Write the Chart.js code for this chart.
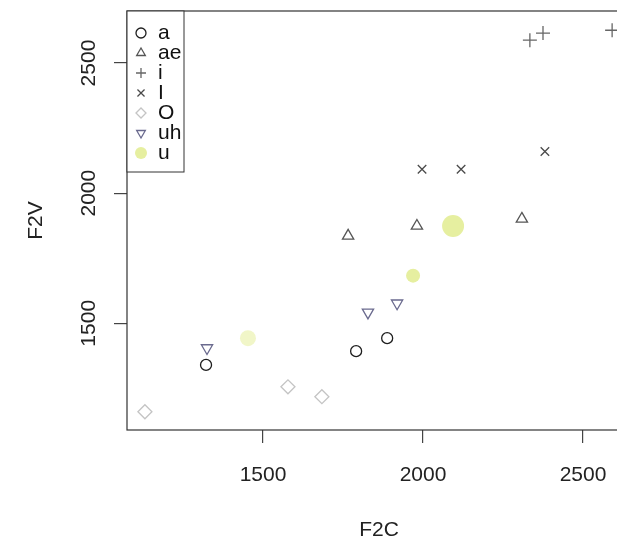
<!DOCTYPE html>
<html>
<head>
<meta charset="utf-8">
<script src="https://cdn.jsdelivr.net/npm/chart.js@4"></script>
<style>
html,body{margin:0;padding:0;background:#fff;overflow:hidden}
#wrap{width:660px;height:543px;position:relative}
</style>
</head>
<body>
<div id="wrap"><canvas id="plot"></canvas></div>
<script>
// vowel formant data: F2 of consonant (x) against F2 of vowel (y)
var vowels=["a","ae","i","I","O","uh","u"]
var F2C=[
  [1322,1791,1888],
  [1766,1981,2309],
  [2334,2375,2591],
  [1997,2119,2381],
  [1131,1578,1684],
  [1325,1828,1919],
  [1453,1969,2094]
]
var F2V=[
  [1340,1393,1443],
  [1836,1874,1901],
  [2588,2615,2626],
  [2092,2092,2160],
  [1160,1256,1218],
  [1405,1542,1577],
  [1443,1683,1874]
]
var xTicks=[1500,2000,2500]
var yTicks=[1500,2000,2500]

// one style per vowel, like pch 1..7 in base graphics
var shapes=["circle","triangle","cross","crossRot","rectRot","triangle","circle"]
var rotations=[0,0,0,0,0,180,0]
var colors=["#1e1e1e","#555555","#666666","#4a4a4a","#c4c4c4","#6a6a8e","#e6efa0"]
var sizes=[5.5,6.5,7,6,7,6.5,8]
var fontFam="'Liberation Sans', Arial, sans-serif"

var datasets=vowels.map(function(v,i){
  var pts=F2C[i].map(function(x,j){return {x:x,y:F2V[i][j]}})
  var filled=(v=="u")
  return {
    label:v,
    data:pts,
    pointStyle:shapes[i],
    rotation:rotations[i],
    pointRadius:filled?[8,7,11]:sizes[i],
    borderColor:colors[i],
    backgroundColor:filled?["#f1f6c8","#e6efa0","#e6efa0"]:"rgba(0,0,0,0)",
    borderWidth:filled?0:1.3
  }
})

const boxPlugin={
  id:'rBox',
  afterDraw:(chart)=>{
    const {ctx,chartArea:a}=chart
    const ys=chart.scales.y
    ctx.save()
    // plot frame
    ctx.strokeStyle="#333"
    ctx.lineWidth=1.2
    ctx.strokeRect(a.left,a.top,a.right-a.left,a.bottom-a.top)
    // vertical tick labels on the y axis
    ctx.fillStyle="#222"
    ctx.font="21px "+fontFam
    ctx.textAlign="center"
    ctx.textBaseline="middle"
    yTicks.forEach(function(v){
      ctx.save()
      ctx.translate(89,ys.getPixelForValue(v))
      ctx.rotate(-Math.PI/2)
      ctx.fillText(String(v),0,0)
      ctx.restore()
    })
    // legend box, top left
    var lx=a.left,ly=a.top,lw=57,lh=161
    ctx.fillStyle="#fff"
    ctx.fillRect(lx,ly,lw,lh)
    ctx.strokeStyle="#333"
    ctx.lineWidth=1
    ctx.strokeRect(lx,ly,lw,lh)
    chart.data.datasets.forEach(function(ds,i){
      var yy=ly+22+i*20
      var filled=(ds.label=="u")
      ctx.fillStyle=filled?colors[i]:"rgba(0,0,0,0)"
      ctx.strokeStyle=colors[i]
      ctx.lineWidth=ds.borderWidth||1
      Chart.helpers.drawPoint(ctx,{
        pointStyle:ds.pointStyle,
        rotation:ds.rotation,
        radius:filled?6:5,
        borderWidth:ds.borderWidth
      },lx+14,yy)
      ctx.fillStyle="#111"
      ctx.textAlign="left"
      ctx.fillText(ds.label,lx+31,yy)
    })
    ctx.restore()
  }
}

var chart=new Chart(document.getElementById("plot"),{
  type:'scatter',
  data:{datasets:datasets},
  options:{
    responsive:true,
    maintainAspectRatio:false,
    animation:false,
    layout:{padding:{left:0,right:29,top:10,bottom:0}},
    plugins:{legend:{display:false},tooltip:{enabled:false}},
    scales:{
      x:{
        type:'linear',
        min:1075,max:2650,
        afterBuildTicks:function(s){s.ticks=xTicks.map(function(v){return {value:v}})},
        afterFit:function(s){s.height=113},
        border:{display:false},
        grid:{drawOnChartArea:false,drawTicks:true,tickLength:13,color:"#444",lineWidth:1.2},
        ticks:{color:"#222",font:{family:fontFam,size:21},padding:20,maxRotation:0,
          callback:function(v){return String(v)}},
        title:{display:true,text:"F2C",color:"#222",font:{family:fontFam,size:21},padding:{top:0,bottom:0}}
      },
      y:{
        type:'linear',
        min:1090,max:2700,
        afterBuildTicks:function(s){s.ticks=yTicks.map(function(v){return {value:v}})},
        afterFit:function(s){s.width=127},
        border:{display:false},
        grid:{drawOnChartArea:false,drawTicks:true,tickLength:13,color:"#444",lineWidth:1.2},
        ticks:{display:false},
        title:{display:true,text:"F2V",color:"#222",font:{family:fontFam,size:21},padding:{top:24,bottom:0}}
      }
    }
  },
  plugins:[boxPlugin]
})
</script>
</body>
</html>
